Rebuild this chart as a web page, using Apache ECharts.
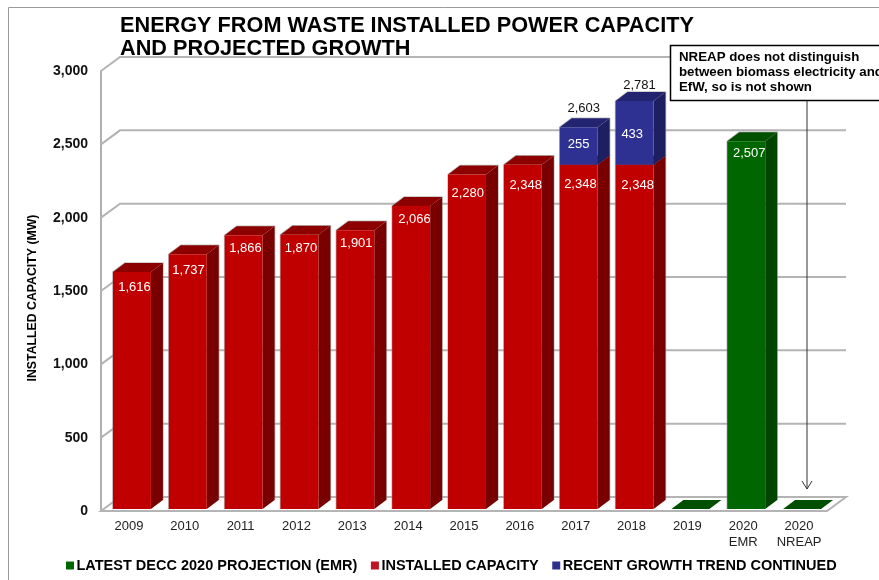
<!DOCTYPE html>
<html>
<head>
<meta charset="utf-8">
<title>Energy from waste capacity</title>
<style>
  html, body { margin: 0; padding: 0; background: #fff; overflow: hidden; }
  #main { width: 879px; height: 580px; }
</style>
<script src="https://cdn.jsdelivr.net/npm/echarts@6/dist/echarts.min.js"></script>
</head>
<body>
<div id="main"></div>
<script>
var categories = ["2009", "2010", "2011", "2012", "2013", "2014", "2015", "2016", "2017", "2018", "2019", "2020\nEMR", "2020\nNREAP"];
var installed = [1616, 1737, 1866, 1870, 1901, 2066, 2280, 2348, 2348, 2348, null, null, null];
var trend = [null, null, null, null, null, null, null, null, 255, 433, null, null, null];
var projection = [null, null, null, null, null, null, null, null, null, null, 0, 2507, 0];
var totals = [null, null, null, null, null, null, null, null, 2603, 2781, null, null, null];
var yTicks = [500, 1000, 1500, 2000, 2500, 3000];

var FONT = '"Liberation Sans", Arial, sans-serif';
var DX = 12, DY = 9;         // depth of a bar
var WALL_X = 19, WALL_Y = 14; // depth of the floor
var SHIFT_X = 3, SHIFT_Y = 2; // bars stand slightly behind the front edge

// hand placed labels in the original: offset from the top middle of the red front face
var redNudgeX = [2.5, 0.7, 1.8, 1.5, 1, 3.3, 0.7, 2.8, 1.7, 3.1];
var redNudgeY = [15, 16, 13, 13.6, 13.5, 13.3, 18.7, 20.4, 19.7, 20.4];

function fmt(v) {
    return v.toLocaleString("en-US");
}

function poly(points, fill) {
    return { type: "polygon", shape: { points: points }, style: { fill: fill } };
}

// a 3d box from the axis values, label rule depends on the series
function boxRenderer(colors, labelFor, totalsOn) {
    return function (params, api) {
        var i = api.value(0);
        var from = api.coord([i, api.value(1)]);
        var to = api.coord([i, api.value(2)]);
        var w = api.size([1, 0])[0] * 0.68;
        var x0 = from[0] - w / 2 + SHIFT_X, x1 = x0 + w;
        var yb = from[1] - SHIFT_Y, yt = to[1] - SHIFT_Y;
        var kids = [];
        if (yb > yt) {
            // faint edge round the box, left open at the bottom so stacked parts join cleanly
            kids.push({
                type: "polyline",
                shape: { points: [[x0, yb], [x0, yt], [x0 + DX, yt - DY], [x1 + DX, yt - DY], [x1 + DX, yb - DY]] },
                style: { fill: null, stroke: "rgba(150,150,150,0.6)", lineWidth: 1.5 }
            });
        }
        kids.push(
            poly([[x1, yb], [x1 + DX, yb - DY], [x1 + DX, yt - DY], [x1, yt]], colors.side),
            poly([[x0, yt], [x0 + DX, yt - DY], [x1 + DX, yt - DY], [x1, yt]], colors.top)
        );
        if (yb > yt) {
            kids.push({ type: "rect", shape: { x: x0, y: yt, width: w, height: yb - yt }, style: { fill: colors.front } });
        }
        var cx = (x0 + x1) / 2;
        var txt = labelFor(i, api.value(2) - api.value(1), cx, yb, yt);
        if (txt) {
            kids.push({
                type: "text",
                style: { x: txt.x, y: txt.y, text: txt.text, fill: "#fff", font: "13px " + FONT, align: "center", verticalAlign: "middle" }
            });
        }
        if (totalsOn && totals[i] != null) {
            kids.push({
                type: "text",
                style: { x: cx + 5, y: yt - (i === 8 ? 19 : 16), text: fmt(totals[i]), fill: "#111", font: "13px " + FONT, align: "center", verticalAlign: "middle" }
            });
        }
        return { type: "group", children: kids };
    };
}

function toBoxes(values, base) {
    var out = [];
    values.forEach(function (v, i) {
        if (v == null) return;
        var b = base ? base[i] || 0 : 0;
        out.push([i, b, b + v]);
    });
    return out;
}

var myChart = echarts.init(document.getElementById("main"));

var option = {
    backgroundColor: "#fff",
    animation: false,
    textStyle: { fontFamily: FONT },
    title: {
        text: "ENERGY FROM WASTE INSTALLED POWER CAPACITY\nAND PROJECTED GROWTH",
        left: 115,
        top: 10,
        textStyle: { fontFamily: FONT, fontSize: 21.7, fontWeight: "bold", color: "#000", lineHeight: 23 }
    },
    legend: {
        left: 61,
        top: 553,
        itemWidth: 8,
        itemHeight: 8,
        itemGap: 13.5,
        icon: "rect",
        data: ["LATEST DECC 2020 PROJECTION (EMR)", "INSTALLED CAPACITY", "RECENT GROWTH TREND CONTINUED"],
        textStyle: { fontFamily: FONT, fontSize: 14.5, fontWeight: "bold", color: "#000", padding: [0, 0, 0, -2.5] }
    },
    grid: { left: 101, right: 52, top: 71, bottom: 69 },
    xAxis: {
        type: "category",
        data: categories,
        axisLine: { show: false },
        axisTick: { show: false },
        axisLabel: { margin: 7, fontFamily: FONT, fontSize: 13, color: "#222", lineHeight: 16, interval: 0 }
    },
    yAxis: {
        type: "value",
        min: 0,
        max: 3000,
        interval: 500,
        name: "INSTALLED CAPACITY (MW)",
        nameLocation: "middle",
        nameGap: 62,
        nameTextStyle: { fontFamily: FONT, fontSize: 12.3, fontWeight: "bold", color: "#000", padding: [0, 14, 0, 0] },
        axisLine: { show: true, lineStyle: { color: "#b0b0b0", width: 2 } },
        axisTick: { show: false },
        splitLine: { show: false },
        axisLabel: {
            margin: 13,
            padding: [4, 0, 0, 0],
            fontFamily: FONT,
            fontSize: 14,
            fontWeight: "bold",
            color: "#111",
            formatter: function (v) { return fmt(v); }
        }
    },
    series: [
        {
            // back wall gridlines and the floor
            type: "custom",
            name: "wall",
            silent: true,
            z: 1,
            data: [[0, 0]].concat(yTicks.map(function (v) { return [0, v]; })),
            encode: { y: 1 },
            renderItem: function (params, api) {
                var cs = params.coordSys;
                var v = api.value(1);
                var y = api.coord([0, v])[1];
                var x0 = cs.x, x1 = cs.x + cs.width;
                if (v === 0) {
                    return {
                        type: "polygon",
                        shape: { points: [[x0, y], [x0 + WALL_X, y - WALL_Y], [x1 + WALL_X, y - WALL_Y], [x1, y]] },
                        style: { fill: "#fff", stroke: "#b4b4b4", lineWidth: 2 }
                    };
                }
                return {
                    type: "polyline",
                    shape: { points: [[x0, y], [x0 + WALL_X, y - WALL_Y], [x1 + WALL_X, y - WALL_Y]] },
                    style: { fill: null, stroke: "#b4b4b4", lineWidth: 2 }
                };
            }
        },
        {
            type: "custom",
            name: "LATEST DECC 2020 PROJECTION (EMR)",
            z: 3,
            itemStyle: { color: "#006600" },
            data: toBoxes(projection),
            encode: { x: 0, y: [1, 2] },
            renderItem: boxRenderer({ front: "#006600", side: "#004400", top: "#005000" }, function (i, v, cx, yb, yt) {
                return v > 0 ? { text: fmt(v), x: cx + 3, y: yt + 12 } : null;
            })
        },
        {
            type: "custom",
            name: "INSTALLED CAPACITY",
            z: 3,
            itemStyle: { color: "#BE1522" },
            data: toBoxes(installed),
            encode: { x: 0, y: [1, 2] },
            renderItem: boxRenderer({ front: "#C00000", side: "#780000", top: "#8C0000" }, function (i, v, cx, yb, yt) {
                return { text: fmt(v), x: cx + redNudgeX[i], y: yt + redNudgeY[i] };
            })
        },
        {
            type: "custom",
            name: "RECENT GROWTH TREND CONTINUED",
            z: 4,
            itemStyle: { color: "#2E3192" },
            data: toBoxes(trend, installed),
            encode: { x: 0, y: [1, 2] },
            renderItem: boxRenderer({ front: "#2E3192", side: "#1E1F60", top: "#232470" }, function (i, v, cx, yb, yt) {
                return { text: fmt(v), x: cx + (i === 9 ? -2.3 : 0), y: (yb + yt) / 2 + (i === 8 ? -1.5 : 1.5) };
            }, true)
        }
    ],
    graphic: [
        // outer frame of the pasted chart
        { type: "rect", z: 0, shape: { x: 8.5, y: 7.5, width: 900, height: 600 }, style: { fill: null, stroke: "#9a9a9a", lineWidth: 1 } },
        // note with its arrow
        { type: "line", z: 20, shape: { x1: 807, y1: 100, x2: 807, y2: 489 }, style: { stroke: "#333", lineWidth: 1 } },
        { type: "polyline", z: 20, shape: { points: [[802, 481], [807, 489], [812, 481]] }, style: { fill: null, stroke: "#333", lineWidth: 1 } },
        { type: "rect", z: 21, shape: { x: 670.5, y: 45.5, width: 230, height: 55 }, style: { fill: "#fff", stroke: "#000", lineWidth: 1.5 } },
        {
            type: "text", z: 22, left: 679, top: 50,
            style: {
                text: "NREAP does not distinguish\nbetween biomass electricity and\nEfW, so is not shown",
                font: "bold 13.3px " + FONT, fill: "#000", lineHeight: 15
            }
        }
    ]
};

option && myChart.setOption(option);
</script>
</body>
</html>
